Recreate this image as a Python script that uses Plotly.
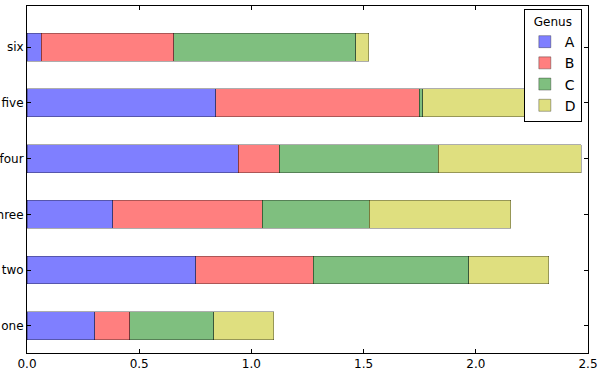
import plotly.graph_objects as go

categories = ["one", "two", "three", "four", "five", "six"]
genus = ["A", "B", "C", "D"]
values_A = [0.302, 0.752, 0.381, 0.942, 0.841, 0.063]
values_B = [0.156, 0.524, 0.668, 0.181, 0.907, 0.590]
values_C = [0.374, 0.693, 0.476, 0.710, 0.015, 0.812]
values_D = [0.268, 0.356, 0.631, 0.638, 0.600, 0.058]
colors = ["rgba(0,0,255,0.5)", "rgba(255,0,0,0.5)", "rgba(0,128,0,0.5)", "rgba(191,191,0,0.5)"]
x_ticks = [0.0, 0.5, 1.0, 1.5, 2.0, 2.5]

series = [values_A, values_B, values_C, values_D]

fig = go.Figure()
for name, vals, col in zip(genus, series, colors):
    fig.add_trace(go.Bar(
        y=categories, x=vals, name=name, orientation="h",
        marker=dict(color=col,
                    line=dict(color="rgba(0,0,0,0.4)", width=0.8)),
    ))

font_family = "DejaVu Sans"
fig.update_layout(
    barmode="stack",
    bargap=0.5,
    width=604, height=372,
    margin=dict(l=27, r=16, t=6, b=19, autoexpand=False),
    paper_bgcolor="white", plot_bgcolor="white",
    font=dict(family=font_family, size=12, color="black"),
    legend=dict(
        title=dict(text="Genus", side="top center", font=dict(size=12)),
        font=dict(size=14),
        x=0.989, xanchor="right", y=0.99, yanchor="top",
        bordercolor="black", borderwidth=1, bgcolor="white",
        traceorder="normal", itemwidth=30, tracegroupgap=0,
    ),
)
fig.update_xaxes(
    range=[0, 2.5], tickvals=x_ticks, tickformat=".1f",
    ticks="inside", ticklen=4, tickcolor="black",
    showline=True, linecolor="black", linewidth=1, mirror="ticks",
    showgrid=False, zeroline=False, automargin=False,
    tickfont=dict(size=12),
)
fig.update_yaxes(
    categoryorder="array", categoryarray=categories,
    range=[-0.49, 5.74],
    ticks="inside", ticklen=4, tickcolor="black",
    showline=True, linecolor="black", linewidth=1, mirror="ticks",
    showgrid=False, zeroline=False, automargin=False,
    tickfont=dict(size=12),
)
fig.write_html("out.html", config={"displayModeBar": False},
               post_script="document.body.style.margin='0';document.body.style.overflow='hidden';")
